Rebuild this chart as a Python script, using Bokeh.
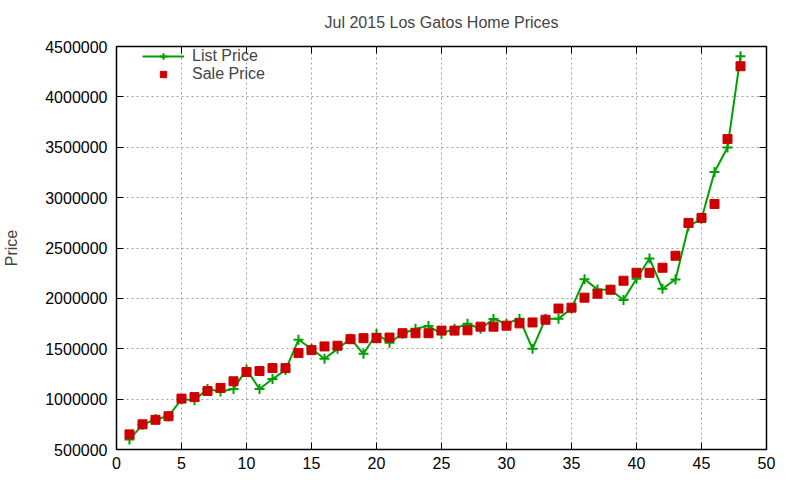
from bokeh.plotting import figure
from bokeh.models import (ColumnDataSource, FixedTicker, BasicTickFormatter, LinearAxis,
                          Legend, LegendItem)
from bokeh.embed import file_html
from bokeh.resources import INLINE

title = "Jul 2015 Los Gatos Home Prices"
home_index = list(range(1, 49))
list_price = [600000, 745000, 800000, 830000, 1000000, 990000, 1100000, 1075000, 1100000, 1295000,
              1100000, 1199000, 1290000, 1589000, 1500000, 1400000, 1499000, 1600000, 1450000, 1649000,
              1560000, 1649000, 1699000, 1725000, 1650000, 1699000, 1749000, 1699000, 1795000, 1749000,
              1799000, 1499000, 1799000, 1799000, 1900000, 2189000, 2089000, 2086000, 1984000, 2195000,
              2396000, 2095000, 2188000, 2716000, 2790000, 3254000, 3498000, 4403000]
sale_price = [650000, 750000, 795000, 830000, 1005000, 1020000, 1081000, 1111000, 1177000, 1269000,
              1279000, 1308000, 1308000, 1457000, 1486000, 1523000, 1530000, 1595000, 1605000, 1605000,
              1611000, 1654000, 1654000, 1654000, 1680000, 1680000, 1683000, 1719000, 1719000, 1729000,
              1752000, 1761000, 1788000, 1899000, 1908000, 2007000, 2046000, 2086000, 2175000, 2254000,
              2254000, 2304000, 2423000, 2749000, 2799000, 2937000, 3581000, 4304000]
x_ticks = list(range(0, 51, 5))
y_ticks = list(range(500000, 4500001, 500000))

FONT = "Liberation Sans"
src = ColumnDataSource(dict(x=home_index, lp=list_price, sp=sale_price))

p = figure(width=784, height=472, output_backend="svg", toolbar_location=None,
           x_range=(0, 50), y_range=(500000, 4500000),
           min_border_left=111, min_border_right=18, min_border_top=45, min_border_bottom=23)

p.title.text = title
p.title.align = "center"
p.title.vertical_align = "top"
p.title.text_font = FONT
p.title.text_font_size = "16px"
p.title.text_font_style = "normal"
p.title.standoff = 27

p.outline_line_color = "black"
p.outline_line_width = 1.5

for ax in (p.xaxis[0], p.yaxis[0]):
    ax.major_tick_in = 7
    ax.major_tick_out = 0
    ax.minor_tick_in = 0
    ax.minor_tick_out = 0
    ax.axis_line_color = "black"
    ax.major_tick_line_color = "black"
    ax.major_label_text_font = FONT
    ax.major_label_text_font_size = "16px"
    ax.major_label_text_color = "black"

p.xaxis.ticker = FixedTicker(ticks=x_ticks)
p.yaxis.ticker = FixedTicker(ticks=y_ticks)
p.yaxis.formatter = BasicTickFormatter(use_scientific=False)
p.xaxis.major_label_standoff = 7
p.yaxis.major_label_standoff = 9
p.yaxis.axis_label = "Price"
p.yaxis.axis_label_text_font = FONT
p.yaxis.axis_label_text_font_size = "16px"
p.yaxis.axis_label_text_font_style = "normal"
p.yaxis.axis_label_standoff = 22

# mirror ticks on the right and top edges
right = LinearAxis(ticker=FixedTicker(ticks=y_ticks), major_tick_in=7, major_tick_out=0,
                   minor_tick_in=0, minor_tick_out=0,
                   major_label_overrides={t: "" for t in y_ticks},
                   major_label_standoff=0, axis_line_color=None)
top = LinearAxis(ticker=FixedTicker(ticks=x_ticks), major_tick_in=7, major_tick_out=0,
                 minor_tick_in=0, minor_tick_out=0,
                 major_label_overrides={t: "" for t in x_ticks},
                 major_label_standoff=0, axis_line_color=None)
p.add_layout(right, "right")
p.add_layout(top, "above")

p.xgrid[0].ticker = FixedTicker(ticks=x_ticks)
p.ygrid[0].ticker = FixedTicker(ticks=y_ticks)
for g in (p.xgrid[0], p.ygrid[0]):
    g.grid_line_color = "#a0a0a0"
    g.grid_line_dash = "2 3"
    g.grid_line_width = 1

ln = p.line("x", "lp", source=src, line_color="#00a000", line_width=2)
cr = p.scatter("x", "lp", source=src, marker="cross", size=10, line_color="#00a000", line_width=2)
sq = p.scatter("x", "sp", source=src, marker="square", size=9, fill_color="#cc0000",
               line_color="#cc0000")

legend = Legend(items=[LegendItem(label="List Price", renderers=[ln, cr]),
                       LegendItem(label="Sale Price", renderers=[sq])],
                location=(24, 364), glyph_width=42, glyph_height=16, spacing=0, padding=2,
                label_text_font=FONT, label_text_font_size="16px", label_standoff=8,
                background_fill_alpha=0, border_line_alpha=0, label_height=16)
p.add_layout(legend, "center")

open("out.html", "w").write(file_html(p, INLINE))
